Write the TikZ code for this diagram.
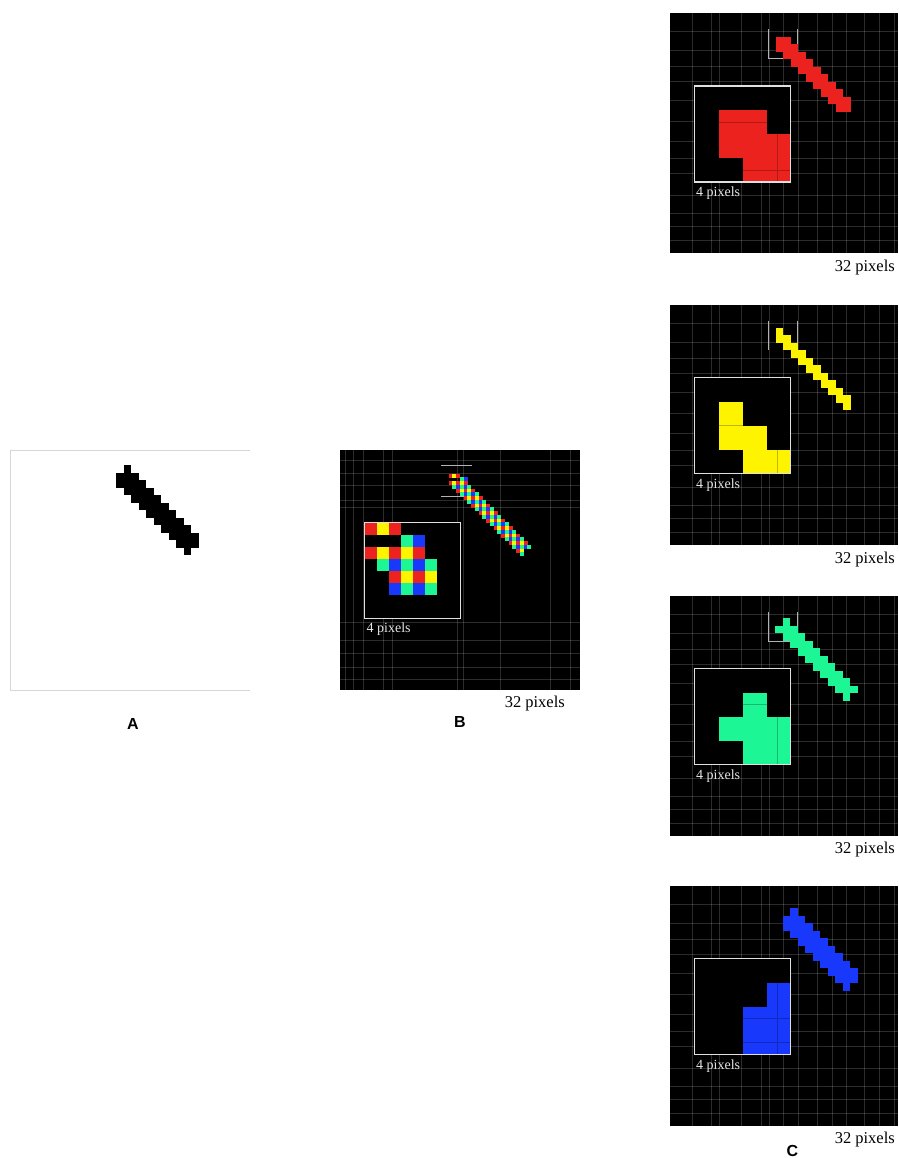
\documentclass[tikz,border=0pt]{standalone}
\usepackage{fontspec}
\setmainfont{Liberation Serif}
\newfontfamily\labelfont{Liberation Sans}
\definecolor{pR}{RGB}{236,34,30}
\definecolor{pY}{RGB}{255,244,0}
\definecolor{pG}{RGB}{28,246,148}
\definecolor{pB}{RGB}{24,56,252}
\definecolor{frameA}{RGB}{215,215,215}
\tikzset{
  gline/.style={draw=white,opacity=0.17,line width=0.5pt},
  insetbox/.style={draw=white!88!black,line width=1.3pt},
  bracketline/.style={draw=white!70!black,line width=0.8pt},
  smalllab/.style={text=white!90!black,font=\fontsize{14}{16}\selectfont,inner sep=0pt,anchor=base west},
  scalelab/.style={text=black,font=\fontsize{16.5}{18}\selectfont,inner sep=0pt,anchor=base east},
  panellab/.style={font=\labelfont\bfseries\fontsize{16}{18}\selectfont,inner sep=0pt},
}
% rows of cells: #1 colour, #2 cell size, #3 list r/a/b
\newcommand\cellrows[3]{%
  \foreach \r/\a/\b in {#3}{%
    \foreach \c in {\a,...,\b}{%
      \fill[#1] (\c*#2,\r*#2) rectangle ++(#2+0.15,#2+0.15);}}}
% Bayer mosaic rows
\newcommand\bayerrows[2]{%
  \foreach \r/\a/\b in {#2}{%
    \foreach \c in {\a,...,\b}{%
      \pgfmathtruncatemacro\pr{mod(\r,2)}%
      \pgfmathtruncatemacro\pc{mod(\c,2)}%
      \ifnum\pr=0 \ifnum\pc=0 \def\bcol{pR}\else\def\bcol{pY}\fi
      \else \ifnum\pc=0 \def\bcol{pB}\else\def\bcol{pG}\fi\fi
      \fill[\bcol] (\c*#1,\r*#1) rectangle ++(#1+0.1,#1+0.1);}}}
\newcommand\cxs{22,41,49,71,91,99,113,128,147,162,176,194,209,224}
\newcommand\cys{18,37,53,68,87,108,128,145,160,182,200,213,227}
\newcommand\bxs{5,13,23,43,52,117,123,160,210,230}
\newcommand\bys{10,23,35,50,57,172,190,203,217,229}
\begin{document}
\begin{tikzpicture}[x=1pt,y=-1pt]
\useasboundingbox[fill=white] (0,0) rectangle (898,1158);

% ---------------- Panel A ----------------
\begin{scope}[shift={(10,450)}]
  \draw[frameA,line width=1pt] (240,0) -- (0,0) -- (0,240) -- (240,240);
  \begin{scope}[shift={(106,15)}]
    \cellrows{black}{7.5}{0/1/1,1/0/2,2/0/3,3/1/4,4/2/5,5/3/6,6/4/7,7/5/8,8/6/9,9/7/10,10/8/10,11/9/9}
  \end{scope}
\end{scope}
\node[panellab] (labA) at (133,724) {A};

% ---------------- Panel B ----------------
\begin{scope}[shift={(340,450)}]
  \fill[black] (0,0) rectangle (240,240);
  \begin{scope}
    \clip (0,0) rectangle (240,240);
    \foreach \gx in \bxs {\draw[gline] (\gx,0) -- (\gx,240);}
    \foreach \gy in \bys {\draw[gline] (0,\gy) -- (240,\gy);}
  \end{scope}
  \draw[bracketline] (101,15) -- (132,15);
  \draw[bracketline] (101,46) -- (132,46);
  \begin{scope}[shift={(108.7,23.7)}]
    \bayerrows{3.75}{0/0/2,1/3/4,2/0/4,3/1/5,4/2/6,5/3/7,6/4/8,7/5/9,8/6/10,9/7/11,10/8/12,11/9/13,12/10/14,13/11/15,14/12/16,15/13/17,16/14/18,17/15/19,18/16/20,19/17/21,20/18/19,21/19/19}
  \end{scope}
  \begin{scope}[shift={(24.5,72.7)}]
    \fill[black] (0,0) rectangle (96,96);
    \begin{scope}[shift={(-24,-24)}]
      \bayerrows{12}{2/2/4,3/5/6,4/2/6,5/3/7,6/4/7,7/4/7}
    \end{scope}
    \draw[insetbox] (0,0) rectangle (96,96);
  \end{scope}
\end{scope}
\node[smalllab] (fourB) at (366.5,632.7) {4 pixels};
\node[scalelab] (scaleB) at (565,707.7) {32 pixels};
\node[panellab] (labB) at (460,722) {B};

% ---------------- Panel C1 (red) ----------------
\begin{scope}[shift={(670,13.3)}]
  \fill[black] (0,0) rectangle (228,240);
  \begin{scope}
    \clip (0,0) rectangle (228,240);
    \foreach \gx in \cxs {\draw[gline] (\gx,0) -- (\gx,240);}
    \foreach \gy in \cys {\draw[gline] (0,\gy) -- (228,\gy);}
  \end{scope}
  \draw[bracketline] (98.3,16) -- (98.3,45) -- (127.7,45) -- (127.7,16);
  \begin{scope}[shift={(105.7,23.4)}]
    \cellrows{pR}{7.5}{0/0/1,1/0/2,2/1/3,3/2/4,4/3/5,5/4/6,6/5/7,7/6/8,8/7/9,9/8/9}
  \end{scope}
  \begin{scope}[shift={(24.5,72.7)}]
    \fill[black] (0,0) rectangle (96,96);
    \fill[pR] (24,24) rectangle (72,48);
    \fill[pR] (24,48) rectangle (96,72);
    \fill[pR] (48,72) rectangle (96,96);
    \draw[black,opacity=0.25,line width=0.5pt] (24,36) -- (72,36) (83,48) -- (83,96) (48,84) -- (96,84);
    \draw[insetbox] (0,0) rectangle (96,96);
  \end{scope}
\end{scope}
\node[smalllab] (fourC1) at (696,197) {4 pixels};
\node[scalelab] (scaleC1) at (895,271.7) {32 pixels};

% ---------------- Panel C2 (yellow) ----------------
\begin{scope}[shift={(670,305)}]
  \fill[black] (0,0) rectangle (228,240);
  \begin{scope}
    \clip (0,0) rectangle (228,240);
    \foreach \gx in \cxs {\draw[gline] (\gx,0) -- (\gx,240);}
    \foreach \gy in \cys {\draw[gline] (0,\gy) -- (228,\gy);}
  \end{scope}
  \draw[bracketline] (98.3,15.7) -- (98.3,45);
  \draw[bracketline] (127.7,15.7) -- (127.7,45);
  \begin{scope}[shift={(105.7,22.7)}]
    \cellrows{pY}{7.5}{0/0/0,1/0/1,2/1/2,3/2/3,4/3/4,5/4/5,6/5/6,7/6/7,8/7/8,9/8/9,10/9/9}
  \end{scope}
  \begin{scope}[shift={(24.5,72.7)}]
    \fill[black] (0,0) rectangle (96,96);
    \fill[pY] (24,24) rectangle (48,48);
    \fill[pY] (24,48) rectangle (72,72);
    \fill[pY] (48,72) rectangle (96,96);
    \draw[black,opacity=0.25,line width=0.5pt] (24,48) -- (48,48) (83,72) -- (83,96);
    \draw[insetbox] (0,0) rectangle (96,96);
  \end{scope}
\end{scope}
\node[smalllab] (fourC2) at (696,488) {4 pixels};
\node[scalelab] (scaleC2) at (895,563) {32 pixels};

% ---------------- Panel C3 (green) ----------------
\begin{scope}[shift={(670,596)}]
  \fill[black] (0,0) rectangle (228,240);
  \begin{scope}
    \clip (0,0) rectangle (228,240);
    \foreach \gx in \cxs {\draw[gline] (\gx,0) -- (\gx,240);}
    \foreach \gy in \cys {\draw[gline] (0,\gy) -- (228,\gy);}
  \end{scope}
  \draw[bracketline] (98.3,15.7) -- (98.3,45.7) -- (127.7,45.7) -- (127.7,15.7);
  \begin{scope}[shift={(105,22.3)}]
    \cellrows{pG}{7.5}{0/1/1,1/0/2,2/1/3,3/2/4,4/3/5,5/4/6,6/5/7,7/6/8,8/7/9,9/8/10,10/9/9}
  \end{scope}
  \begin{scope}[shift={(24.5,72.7)}]
    \fill[black] (0,0) rectangle (96,96);
    \fill[pG] (48,24) rectangle (72,48);
    \fill[pG] (24,48) rectangle (96,72);
    \fill[pG] (48,72) rectangle (96,96);
    \draw[black,opacity=0.25,line width=0.5pt] (48,36) -- (72,36) (83,48) -- (83,96);
    \draw[insetbox] (0,0) rectangle (96,96);
  \end{scope}
\end{scope}
\node[smalllab] (fourC3) at (696,779) {4 pixels};
\node[scalelab] (scaleC3) at (895,853) {32 pixels};

% ---------------- Panel C4 (blue) ----------------
\begin{scope}[shift={(670,886)}]
  \fill[black] (0,0) rectangle (228,240);
  \begin{scope}
    \clip (0,0) rectangle (228,240);
    \foreach \gx in \cxs {\draw[gline] (\gx,0) -- (\gx,240);}
    \foreach \gy in \cys {\draw[gline] (0,\gy) -- (228,\gy);}
  \end{scope}
  \begin{scope}[shift={(112.7,22.3)}]
    \cellrows{pB}{7.5}{0/1/1,1/0/2,2/0/3,3/1/4,4/2/5,5/3/6,6/4/7,7/5/8,8/6/9,9/7/9,10/8/8}
  \end{scope}
  \begin{scope}[shift={(24.5,72.7)}]
    \fill[black] (0,0) rectangle (96,96);
    \fill[pB] (72,24) rectangle (96,48);
    \fill[pB] (48,48) rectangle (96,96);
    \draw[black,opacity=0.25,line width=0.5pt] (48,60) -- (96,60) (48,84) -- (96,84) (83,24) -- (83,96);
    \draw[insetbox] (0,0) rectangle (96,96);
  \end{scope}
\end{scope}
\node[smalllab] (fourC4) at (696,1069) {4 pixels};
\node[scalelab] (scaleC4) at (895,1143) {32 pixels};
\node[panellab] (labC) at (792.5,1151) {C};
\end{tikzpicture}
\end{document}
